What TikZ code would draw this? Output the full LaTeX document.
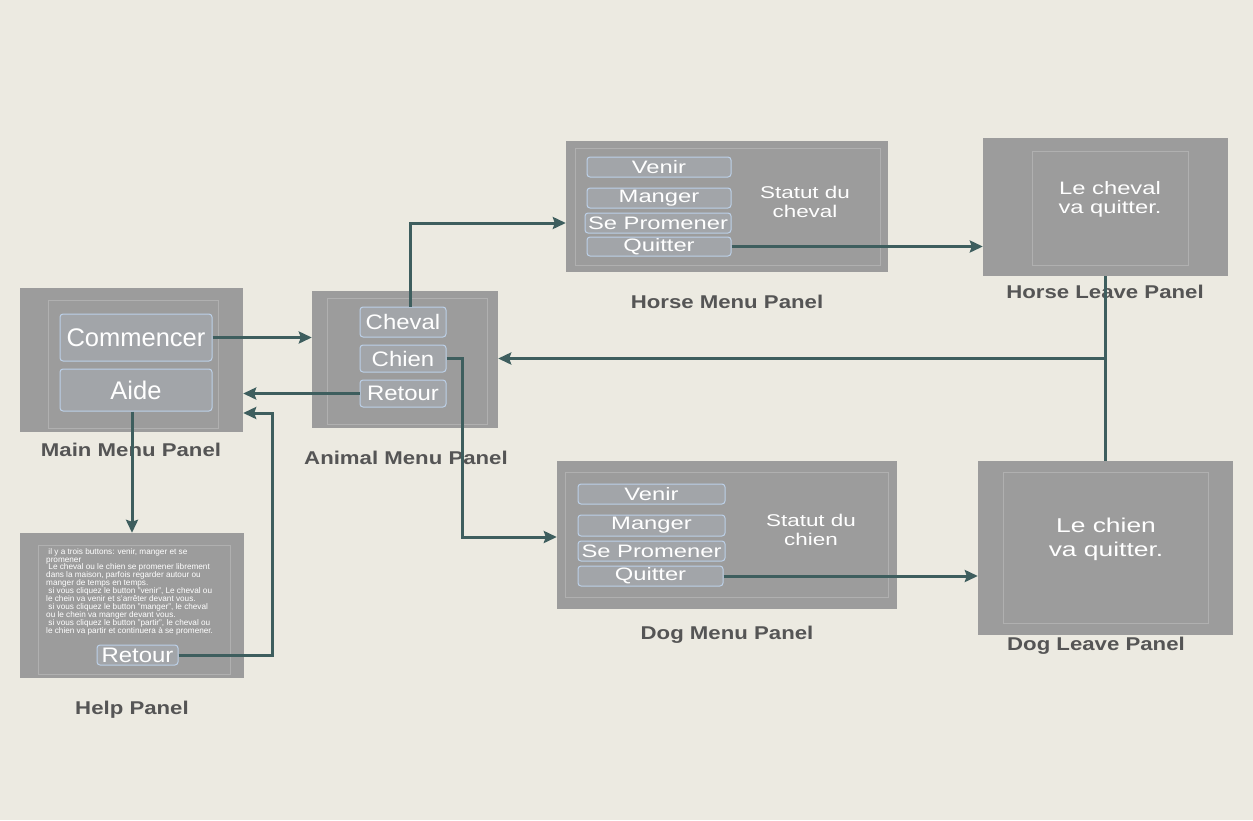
\documentclass[tikz,border=0pt]{standalone}
\usepackage{fontspec}
\setmainfont{Liberation Sans}
\newfontfamily\widefont[FakeStretch=1.32]{Liberation Sans}
\newfontfamily\midfont[FakeStretch=1.14]{Liberation Sans}
\newfontfamily\labfont[FakeStretch=1.2]{Liberation Sans}
\usetikzlibrary{arrows.meta,calc}
\definecolor{bg}{RGB}{236,234,225}
\definecolor{panelgrey}{RGB}{156,156,156}
\definecolor{framegrey}{RGB}{176,176,176}
\definecolor{btnfill}{RGB}{162,165,169}
\definecolor{btnedge}{RGB}{188,208,232}
\definecolor{labgrey}{RGB}{85,85,85}
\definecolor{conn}{RGB}{62,94,94}
\tikzset{
  panel/.style={fill=panelgrey, draw=none, inner sep=0pt},
  frameline/.style={draw=framegrey, line width=0.8pt},
  button/.style={draw=btnedge, fill=btnfill, rounded corners=3pt, line width=1pt,
    text=white, inner sep=0pt},
  bigbtn/.style={button, font=\fontsize{25.5}{28}\selectfont},
  midbtn/.style={button, font=\midfont\fontsize{21}{24}\selectfont},
  smallbtn/.style={button, font=\widefont\fontsize{18}{20}\selectfont},
  status/.style={text=white, align=center, font=\widefont\fontsize{17}{19}\selectfont},
  panellabel/.style={text=labgrey, font=\labfont\bfseries\fontsize{18.5}{20}\selectfont},
  link/.style={draw=conn, line width=3pt},
  arrowlink/.style={link, -{Stealth[length=13pt,width=12pt,inset=2pt]}},
}
\begin{document}
\begin{tikzpicture}[x=1pt,y=-1pt]
\fill[bg] (0,0) rectangle (1253,820);
\useasboundingbox (0,0) rectangle (1253,820);

% ---------- Main Menu Panel
\node[panel, minimum width=223pt, minimum height=144pt] (main) at (131.5,360) {};
\draw[frameline] (48,300) rectangle (218,428);
\node[bigbtn, minimum width=152pt, minimum height=47pt] (commencer) at (136,337.5) {Commencer};
\node[bigbtn, minimum width=152pt, minimum height=42pt] (aide) at (136,390) {Aide};
\node[panellabel] (mainlab) at (131,450) {Main Menu Panel};

% ---------- Animal Menu Panel
\node[panel, minimum width=186pt, minimum height=137pt] (animal) at (405,359.5) {};
\draw[frameline] (327,298) rectangle (487,424);
\node[midbtn, minimum width=86pt, minimum height=30pt] (cheval) at (403,322) {Cheval};
\node[midbtn, minimum width=86pt, minimum height=27pt] (chien) at (403,358.5) {Chien};
\node[midbtn, minimum width=86pt, minimum height=27pt] (aretour) at (403,393.5) {Retour};
\node[panellabel] (animallab) at (406,458) {Animal Menu Panel};

% ---------- Help Panel
\node[panel, minimum width=224pt, minimum height=145pt] (help) at (132,605.5) {};
\draw[frameline] (38,545) rectangle (230,674);
\node[anchor=north west, align=left, text=white, inner sep=0pt,
  font=\fontsize{8.2}{7.9}\selectfont] (helptext) at (46,548) {%
 \ il y a trois buttons: venir, manger et se\\
promener\\
 \ Le cheval ou le chien se promener librement\\
dans la maison, parfois regarder autour ou\\
manger de temps en temps.\\
 \ si vous cliquez le button "venir", Le cheval ou\\
le chein va venir et s'arrêter devant vous.\\
 \ si vous cliquez le button "manger", le cheval\\
ou le chein va manger devant vous.\\
 \ si vous cliquez le button "partir", le cheval ou\\
le chien va partir et continuera à se promener.};
\node[midbtn, minimum width=81pt, minimum height=20pt] (hretour) at (137.5,655) {Retour};
\node[panellabel] (helplab) at (132,710) {Help Panel};

% ---------- Horse Menu Panel
\node[panel, minimum width=322pt, minimum height=131pt] (hmenu) at (727,206.5) {};
\draw[frameline] (575,148) rectangle (880,265);
\node[smallbtn, minimum width=144pt, minimum height=20pt] (hvenir) at (659,167) {Venir};
\node[smallbtn, minimum width=144pt, minimum height=20pt] (hmanger) at (659,198) {Manger};
\node[smallbtn, minimum width=146pt, minimum height=20pt] (hprom) at (658,223) {Se Promener};
\node[smallbtn, minimum width=144pt, minimum height=19pt] (hquit) at (659,246.5) {Quitter};
\node[status] (hstat) at (805,202) {Statut du\\cheval};
\node[panellabel] (hmenulab) at (727,302) {Horse Menu Panel};

% ---------- Horse Leave Panel
\node[panel, minimum width=245pt, minimum height=138pt] (hleave) at (1105.5,207) {};
\draw[frameline] (1032,151) rectangle (1188,265);
\node[status, font=\widefont\fontsize{18}{19}\selectfont] (hleavetext) at (1110,199) {Le cheval\\va quitter.};
\node[panellabel] (hleavelab) at (1105,292) {Horse Leave Panel};

% ---------- Dog Menu Panel
\node[panel, minimum width=340pt, minimum height=148pt] (dmenu) at (727,535) {};
\draw[frameline] (565,472) rectangle (888,597);
\node[smallbtn, minimum width=147pt, minimum height=20pt] (dvenir) at (651.5,494) {Venir};
\node[smallbtn, minimum width=147pt, minimum height=21pt] (dmanger) at (651.5,525.5) {Manger};
\node[smallbtn, minimum width=147pt, minimum height=20pt] (dprom) at (651.5,551) {Se Promener};
\node[smallbtn, minimum width=145pt, minimum height=20pt] (dquit) at (650.5,576) {Quitter};
\node[status] (dstat) at (811,530) {Statut du\\chien};
\node[panellabel] (dmenulab) at (727,635) {Dog Menu Panel};

% ---------- Dog Leave Panel
\node[panel, minimum width=255pt, minimum height=174pt] (dleave) at (1105.5,548) {};
\draw[frameline] (1003,472) rectangle (1208,623);
\node[status, font=\widefont\fontsize{20}{24}\selectfont] (dleavetext) at (1106,539) {Le chien\\va quitter.};
\node[panellabel] (dleavelab) at (1096,646) {Dog Leave Panel};

% ---------- Connectors
\draw[arrowlink] (commencer.east) -- (animal.west |- commencer.east);
\draw[arrowlink] (aretour.west) -- (main.east |- aretour.west);
\coordinate (hc) at (272,413);
\draw[arrowlink] (hretour.east) -| (hc) -- (main.east |- hc);
\draw[arrowlink] (help.north |- aide.south) -- (help.north);
\coordinate (cv) at ($(cheval.north)+(7,0)$);
\draw[arrowlink] (cv) |- (hmenu.west |- hprom.west);
\coordinate (cd) at (462,537);
\draw[arrowlink] (chien.east) -| (cd) -- (dmenu.west |- cd);
\draw[arrowlink] (hquit.east) -- (hleave.west |- hquit.east);
\draw[arrowlink] (dquit.east) -- (dleave.west |- dquit.east);
\draw[link] (hleave.south) -- (dleave.north);
\coordinate (jn) at (hleave.south |- chien.east);
\draw[arrowlink] (jn) -- (animal.east |- jn);
\end{tikzpicture}
\end{document}
